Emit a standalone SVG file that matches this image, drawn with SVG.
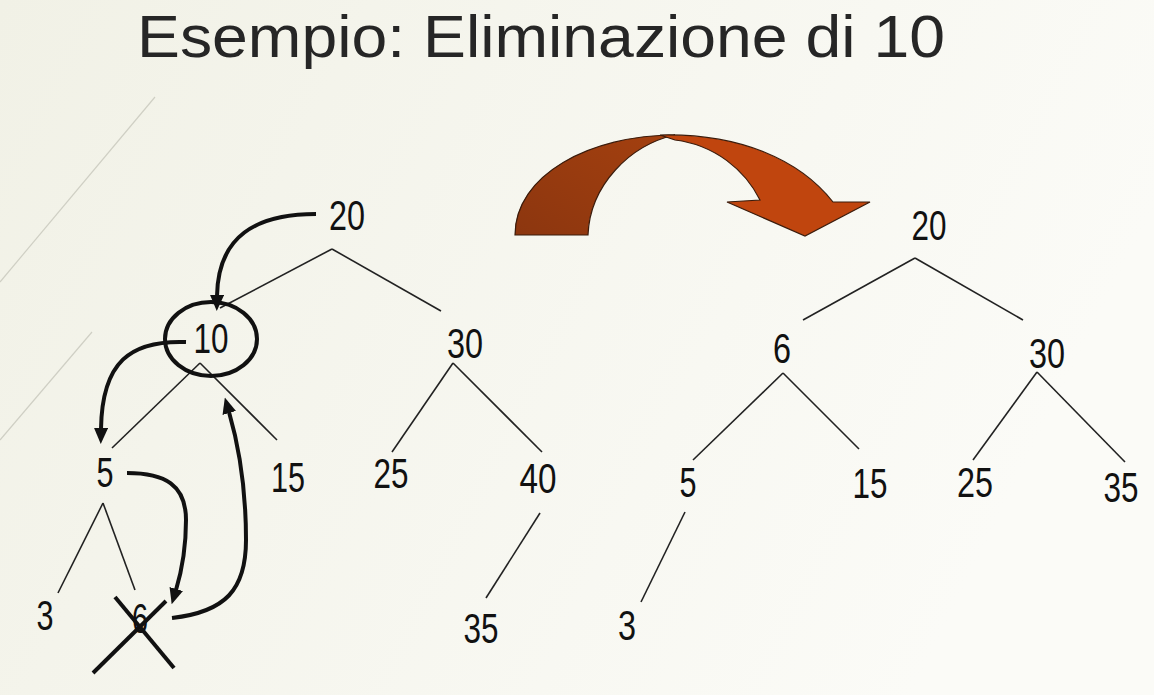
<svg xmlns="http://www.w3.org/2000/svg" width="1154" height="695" viewBox="0 0 1154 695">
  <defs>
    <linearGradient id="bg" x1="0" y1="0" x2="1" y2="0.3">
      <stop offset="0" stop-color="#f1f1e6"/>
      <stop offset="1" stop-color="#fbfbf7"/>
    </linearGradient>
    <linearGradient id="darkBand" x1="0" y1="1" x2="1" y2="0">
      <stop offset="0" stop-color="#8c360f"/>
      <stop offset="1" stop-color="#a4400f"/>
    </linearGradient>
    <marker id="ah" markerUnits="userSpaceOnUse" markerWidth="16" markerHeight="14" refX="1" refY="7" orient="auto">
      <path d="M0,0 L16,7 L0,14 z" fill="#111"/>
    </marker>
    <style>
      .num { font-family: "Liberation Sans", Arial, sans-serif; font-size: 43px; fill: #111; text-anchor: middle; }
      .edge { stroke: #222; stroke-width: 1.6; fill: none; }
      .move { stroke: #111; stroke-width: 4; fill: none; stroke-linecap: butt; marker-end: url(#ah); }
      .title { font-family: "Liberation Sans", Arial, sans-serif; font-size: 59px; fill: #262626; }
    </style>
  </defs>

  <rect width="1154" height="695" fill="url(#bg)"/>
  <line x1="155" y1="97" x2="0" y2="282" stroke="#cfcfc4" stroke-width="1.2"/>
  <line x1="92" y1="332" x2="0" y2="440" stroke="#cfcfc4" stroke-width="1.2"/>

  <text class="title" x="137" y="57" textLength="808" lengthAdjust="spacingAndGlyphs">Esempio: Eliminazione di 10</text>

  <!-- big curved arrow -->
  <g id="bigArrow" stroke="#3b1c0c" stroke-width="1.2" stroke-linejoin="miter">
    <path d="M515,235 C515,175 590,135 675,135 C630,145 590,185 588,235 Z" fill="url(#darkBand)"/>
    <path d="M660,135 C740,133 800,160 833,202 L870,202 L805,236 L727,202 L760,200 C745,170 715,145 675,140 Z" fill="#c0450e"/>
  </g>

  <!-- left tree edges -->
  <g id="edges-left">
    <line class="edge" x1="332" y1="249" x2="220" y2="308"/>
    <line class="edge" x1="332" y1="249" x2="441" y2="311"/>
    <line class="edge" x1="200" y1="363" x2="112" y2="448"/>
    <line class="edge" x1="200" y1="363" x2="277" y2="440"/>
    <line class="edge" x1="453" y1="363" x2="392" y2="452"/>
    <line class="edge" x1="453" y1="363" x2="542" y2="452"/>
    <line class="edge" x1="540" y1="513" x2="486" y2="598"/>
    <line class="edge" x1="103" y1="503" x2="58" y2="593"/>
    <line class="edge" x1="103" y1="503" x2="135" y2="590"/>
  </g>

  <!-- left tree nodes -->
  <g id="L20"><text class="num" x="347" y="230" textLength="36" lengthAdjust="spacingAndGlyphs">20</text></g>
  <g id="L10">
    <ellipse cx="211" cy="339" rx="46" ry="37" fill="none" stroke="#111" stroke-width="4"/>
    <text class="num" x="211" y="353" textLength="35" lengthAdjust="spacingAndGlyphs">10</text>
  </g>
  <g id="L30"><text class="num" x="465" y="358" textLength="36" lengthAdjust="spacingAndGlyphs">30</text></g>
  <g id="L5"><text class="num" x="105" y="487" textLength="17" lengthAdjust="spacingAndGlyphs">5</text></g>
  <g id="L15"><text class="num" x="288" y="492" textLength="34" lengthAdjust="spacingAndGlyphs">15</text></g>
  <g id="L25"><text class="num" x="391" y="488" textLength="35" lengthAdjust="spacingAndGlyphs">25</text></g>
  <g id="L40"><text class="num" x="538" y="493" textLength="37" lengthAdjust="spacingAndGlyphs">40</text></g>
  <g id="L35"><text class="num" x="481" y="643" textLength="35" lengthAdjust="spacingAndGlyphs">35</text></g>
  <g id="L3"><text class="num" x="45" y="630" textLength="17" lengthAdjust="spacingAndGlyphs">3</text></g>
  <g id="L6">
    <text class="num" x="140" y="633" textLength="16" lengthAdjust="spacingAndGlyphs">6</text>
    <line x1="115" y1="597" x2="174" y2="668" stroke="#111" stroke-width="4"/>
    <line x1="93" y1="673" x2="166" y2="601" stroke="#111" stroke-width="4"/>
  </g>

  <!-- movement arrows -->
  <g id="connectors">
    <path class="move" d="M316,214 C256,214 218,236 217,296"/>
    <path class="move" d="M186,342 C130,340 102,362 101,429"/>
    <path class="move" d="M127,473 C165,473 186,485 186,520 C186,550 182,570 176,590"/>
    <path class="move" d="M172,618 C225,612 246,590 246,540 C246,490 240,450 229,412"/>
  </g>

  <!-- right tree edges -->
  <g id="edges-right">
    <line class="edge" x1="915" y1="258" x2="803" y2="320"/>
    <line class="edge" x1="915" y1="258" x2="1023" y2="320"/>
    <line class="edge" x1="783" y1="373" x2="693" y2="460"/>
    <line class="edge" x1="783" y1="373" x2="859" y2="449"/>
    <line class="edge" x1="1037" y1="372" x2="973" y2="460"/>
    <line class="edge" x1="1037" y1="372" x2="1125" y2="462"/>
    <line class="edge" x1="685" y1="512" x2="641" y2="602"/>
  </g>

  <!-- right tree nodes -->
  <g id="R20"><text class="num" x="929" y="240" textLength="35" lengthAdjust="spacingAndGlyphs">20</text></g>
  <g id="R6"><text class="num" x="782" y="363" textLength="18" lengthAdjust="spacingAndGlyphs">6</text></g>
  <g id="R30"><text class="num" x="1047" y="368" textLength="36" lengthAdjust="spacingAndGlyphs">30</text></g>
  <g id="R5"><text class="num" x="688" y="497" textLength="17" lengthAdjust="spacingAndGlyphs">5</text></g>
  <g id="R15"><text class="num" x="870" y="498" textLength="35" lengthAdjust="spacingAndGlyphs">15</text></g>
  <g id="R25"><text class="num" x="975" y="497" textLength="36" lengthAdjust="spacingAndGlyphs">25</text></g>
  <g id="R35"><text class="num" x="1121" y="502" textLength="35" lengthAdjust="spacingAndGlyphs">35</text></g>
  <g id="R3"><text class="num" x="627" y="640" textLength="18" lengthAdjust="spacingAndGlyphs">3</text></g>
</svg>
